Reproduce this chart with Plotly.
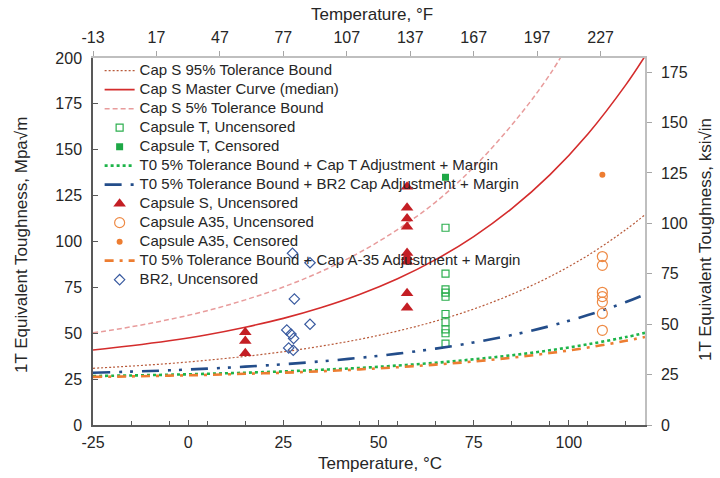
import plotly.graph_objects as go

# ---- Cap S master-curve family (temperature grid in deg C, toughness in MPa*sqrt(m)) ----
T_GRID = [-25, -15, -5, 5, 15, 25, 35, 45, 55, 65, 75, 85, 95, 105, 115, 120]
CAP_S_95 = [30.9, 32.1, 33.5, 35.3, 37.4, 39.9, 43.0, 46.7, 51.2, 56.6, 63.2, 71.2, 80.8, 92.4, 106.5, 114.6]
CAP_S_MEDIAN = [40.9, 43.2, 45.9, 49.2, 53.3, 58.1, 64.0, 71.1, 79.7, 90.1, 102.7, 117.9, 136.3, 158.6, 185.5, 201.0]
T_GRID_UPPER = [-25, -15, -5, 5, 15, 25, 35, 45, 55, 65, 75, 85, 95, 105]
CAP_S_5 = [50.2, 53.5, 57.5, 62.3, 68.2, 75.2, 83.7, 94.0, 106.5, 121.5, 140.5, 163.5, 191.0, 226.0]

# ---- T0 5% tolerance bounds with adjustments + margin ----
T0_CAP_T = [26.7, 27.0, 27.4, 27.9, 28.5, 29.2, 30.1, 31.1, 32.4, 33.9, 35.8, 38.0, 40.7, 44.0, 47.9, 50.2]
T0_BR2 = [28.5, 29.1, 29.8, 30.7, 31.8, 33.1, 34.7, 36.6, 38.9, 41.6, 45.0, 49.0, 53.9, 59.9, 67.0, 71.2]
T0_A35 = [26.2, 26.5, 26.9, 27.3, 27.9, 28.5, 29.3, 30.3, 31.5, 32.9, 34.6, 36.7, 39.2, 42.2, 45.9, 48.0]

# ---- Test data ----
CAP_T_TEMP = [67.6] * 10
CAP_T_K = [107.5, 82.5, 73.9, 72.1, 69.9, 60.5, 56.0, 52.1, 50.0, 44.3]
CAP_T_CENS_TEMP = [67.6]
CAP_T_CENS_K = [135.0]

CAP_S_TEMP = [15, 15, 15, 57.5, 57.5, 57.5, 57.5, 57.5, 57.5, 57.5, 57.5, 57.5]
CAP_S_K = [50.5, 45.8, 39.1, 129.9, 118.4, 112.6, 108.1, 93.7, 91.4, 89.0, 71.8, 63.9]

A35_TEMP = [108.8] * 7
A35_K = [91.8, 87.0, 72.3, 70.0, 67.0, 60.8, 51.6]
A35_CENS_TEMP = [108.8]
A35_CENS_K = [136.4]

BR2_TEMP = [27.4, 32.0, 27.9, 32.0, 25.9, 27.0, 27.7, 26.4, 27.6]
BR2_K = [93.6, 88.4, 68.7, 54.9, 51.8, 49.6, 47.2, 42.0, 40.7]

# axis ranges, ticks and unit conversions
X_RANGE_C = [-25, 120]
Y_RANGE_MPA = [0, 200]
MPA_PER_KSI = 1.0988
C_TICKS = [-25, 0, 25, 50, 75, 100]
F_TICKS = [-13, 17, 47, 77, 107, 137, 167, 197, 227]
MPA_TICKS = [0, 25, 50, 75, 100, 125, 150, 175, 200]
KSI_TICKS = [0, 25, 50, 75, 100, 125, 150, 175]

FONT = "Liberation Sans, Arial, sans-serif"
TEXT_COLOR = "#262626"

W, H = 720, 478
M_L, M_R, M_T, M_B = 93, 75, 58, 53


def lbl(s):
    return '<span style="font-size:15px">' + s + "</span>"


def tick_text(vals):
    return [str(v) for v in vals]  # plain hyphen for negatives


def px_to_paper(xp, yp):
    """Convert a pixel position (from top-left of the page) to paper coordinates."""
    return ((xp - M_L) / (W - M_L - M_R), (H - yp - M_B) / (H - M_T - M_B))


fig = go.Figure()

fig.add_trace(go.Scatter(x=T_GRID, y=CAP_S_95, mode="lines", line_shape="spline",
                         name=lbl("Cap S 95% Tolerance Bound"),
                         line=dict(color="#B85A3A", width=1.2, dash="2px,2px")))
fig.add_trace(go.Scatter(x=T_GRID, y=CAP_S_MEDIAN, mode="lines", line_shape="spline",
                         name=lbl("Cap S Master Curve (median)"),
                         line=dict(color="#D42C2C", width=1.6)))
fig.add_trace(go.Scatter(x=T_GRID_UPPER, y=CAP_S_5, mode="lines", line_shape="spline",
                         name=lbl("Cap S 5% Tolerance Bound"),
                         line=dict(color="#E89C9C", width=1.5, dash="5px,3px")))
fig.add_trace(go.Scatter(x=CAP_T_TEMP, y=CAP_T_K, mode="markers",
                         name=lbl("Capsule T, Uncensored"),
                         marker=dict(symbol="square-open", size=7, color="#2DAF4F",
                                     line=dict(width=1.2))))
fig.add_trace(go.Scatter(x=CAP_T_CENS_TEMP, y=CAP_T_CENS_K, mode="markers",
                         name=lbl("Capsule T, Censored"),
                         marker=dict(symbol="square", size=7, color="#1EA846")))
fig.add_trace(go.Scatter(x=T_GRID, y=T0_CAP_T, mode="lines", line_shape="spline",
                         name=lbl("T0 5% Tolerance Bound + Cap T Adjustment + Margin"),
                         line=dict(color="#1DB449", width=2.6, dash="dot")))
fig.add_trace(go.Scatter(x=T_GRID, y=T0_BR2, mode="lines", line_shape="spline",
                         name=lbl("T0 5% Tolerance Bound + BR2 Cap Adjustment + Margin"),
                         line=dict(color="#234D8A", width=2.6,
                                   dash="17px,9px,3px,8px,3px,9px")))
fig.add_trace(go.Scatter(x=CAP_S_TEMP, y=CAP_S_K, mode="markers",
                         name=lbl("Capsule S, Uncensored"),
                         marker=dict(symbol="triangle-up", size=11, color="#C41E24")))
fig.add_trace(go.Scatter(x=A35_TEMP, y=A35_K, mode="markers",
                         name=lbl("Capsule A35, Uncensored"),
                         marker=dict(symbol="circle-open", size=10, color="#EE8A45",
                                     line=dict(width=1.2))))
fig.add_trace(go.Scatter(x=A35_CENS_TEMP, y=A35_CENS_K, mode="markers",
                         name=lbl("Capsule A35, Censored"),
                         marker=dict(symbol="circle", size=6, color="#ED7D31")))
fig.add_trace(go.Scatter(x=T_GRID, y=T0_A35, mode="lines", line_shape="spline",
                         name=lbl("T0 5% Tolerance Bound + Cap A-35 Adjustment + Margin"),
                         line=dict(color="#ED7D31", width=2.6, dash="9px,6px,3px,6px")))
fig.add_trace(go.Scatter(x=BR2_TEMP, y=BR2_K, mode="markers",
                         name=lbl("BR2, Uncensored"),
                         marker=dict(symbol="diamond-open", size=8, color="#3A5BA0",
                                     line=dict(width=1.2))))

# empty trace so the secondary (deg F / ksi*sqrt(in)) axes get drawn
fig.add_trace(go.Scatter(x=[None], y=[None], xaxis="x2", yaxis="y2",
                         showlegend=False, hoverinfo="skip"))

tick_font = dict(family=FONT, size=16, color=TEXT_COLOR)
title_font = dict(family=FONT, size=17, color=TEXT_COLOR)


def axis_title(text, xp, yp, angle=0):
    x, y = px_to_paper(xp, yp)
    return dict(text=text, x=x, y=y, xref="paper", yref="paper",
                xanchor="center", yanchor="middle", showarrow=False,
                textangle=angle, font=title_font)


fig.update_layout(
    width=W, height=H,
    margin=dict(l=M_L, r=M_R, t=M_T, b=M_B),
    paper_bgcolor="white", plot_bgcolor="white",
    showlegend=True,
    legend=dict(x=0.012, y=1.005, xanchor="left", yanchor="top",
                bgcolor="rgba(0,0,0,0)", borderwidth=0,
                font=dict(family=FONT, size=11.2, color=TEXT_COLOR),
                itemwidth=30),
    xaxis=dict(range=X_RANGE_C, tickvals=C_TICKS, ticktext=tick_text(C_TICKS),
               ticks="inside", ticklen=5, tickcolor="#595959",
               showgrid=False, zeroline=False,
               showline=True, linecolor="#595959", linewidth=1.5,
               minor=dict(tick0=-25, dtick=10, ticks="inside", ticklen=4,
                          tickcolor="#595959", showgrid=False),
               tickfont=tick_font, ticklabelstandoff=2),
    xaxis2=dict(range=[c * 1.8 + 32 for c in X_RANGE_C], tickvals=F_TICKS,
                ticktext=tick_text(F_TICKS),
                overlaying="x", side="top", anchor="y",
                ticks="outside", ticklen=5, tickcolor="#A6A6A6",
                showgrid=False, zeroline=False,
                showline=True, linecolor="#BFBFBF", linewidth=1.5,
                tickfont=tick_font, ticklabelstandoff=2),
    yaxis=dict(range=Y_RANGE_MPA, tickvals=MPA_TICKS, ticks="inside", ticklen=5,
               tickcolor="#595959", showgrid=False, zeroline=False,
               showline=True, linecolor="#595959", linewidth=1.5,
               tickfont=tick_font, ticklabelstandoff=6),
    yaxis2=dict(range=[v / MPA_PER_KSI for v in Y_RANGE_MPA], tickvals=KSI_TICKS,
                overlaying="y", side="right", anchor="x",
                ticks="outside", ticklen=5, tickcolor="#A6A6A6",
                showgrid=False, zeroline=False,
                showline=True, linecolor="#BFBFBF", linewidth=1.5,
                tickfont=tick_font, ticklabelstandoff=6),
    annotations=[
        axis_title("Temperature, °C", 380, 463),
        axis_title("Temperature, °F", 372, 14),
        axis_title("1T Equivalent Toughness, Mpa√m", 21, 245, -90),
        axis_title("1T Equivalent Toughness, ksi√in", 705, 240, -90),
    ],
)

fig.write_html("out.html")
